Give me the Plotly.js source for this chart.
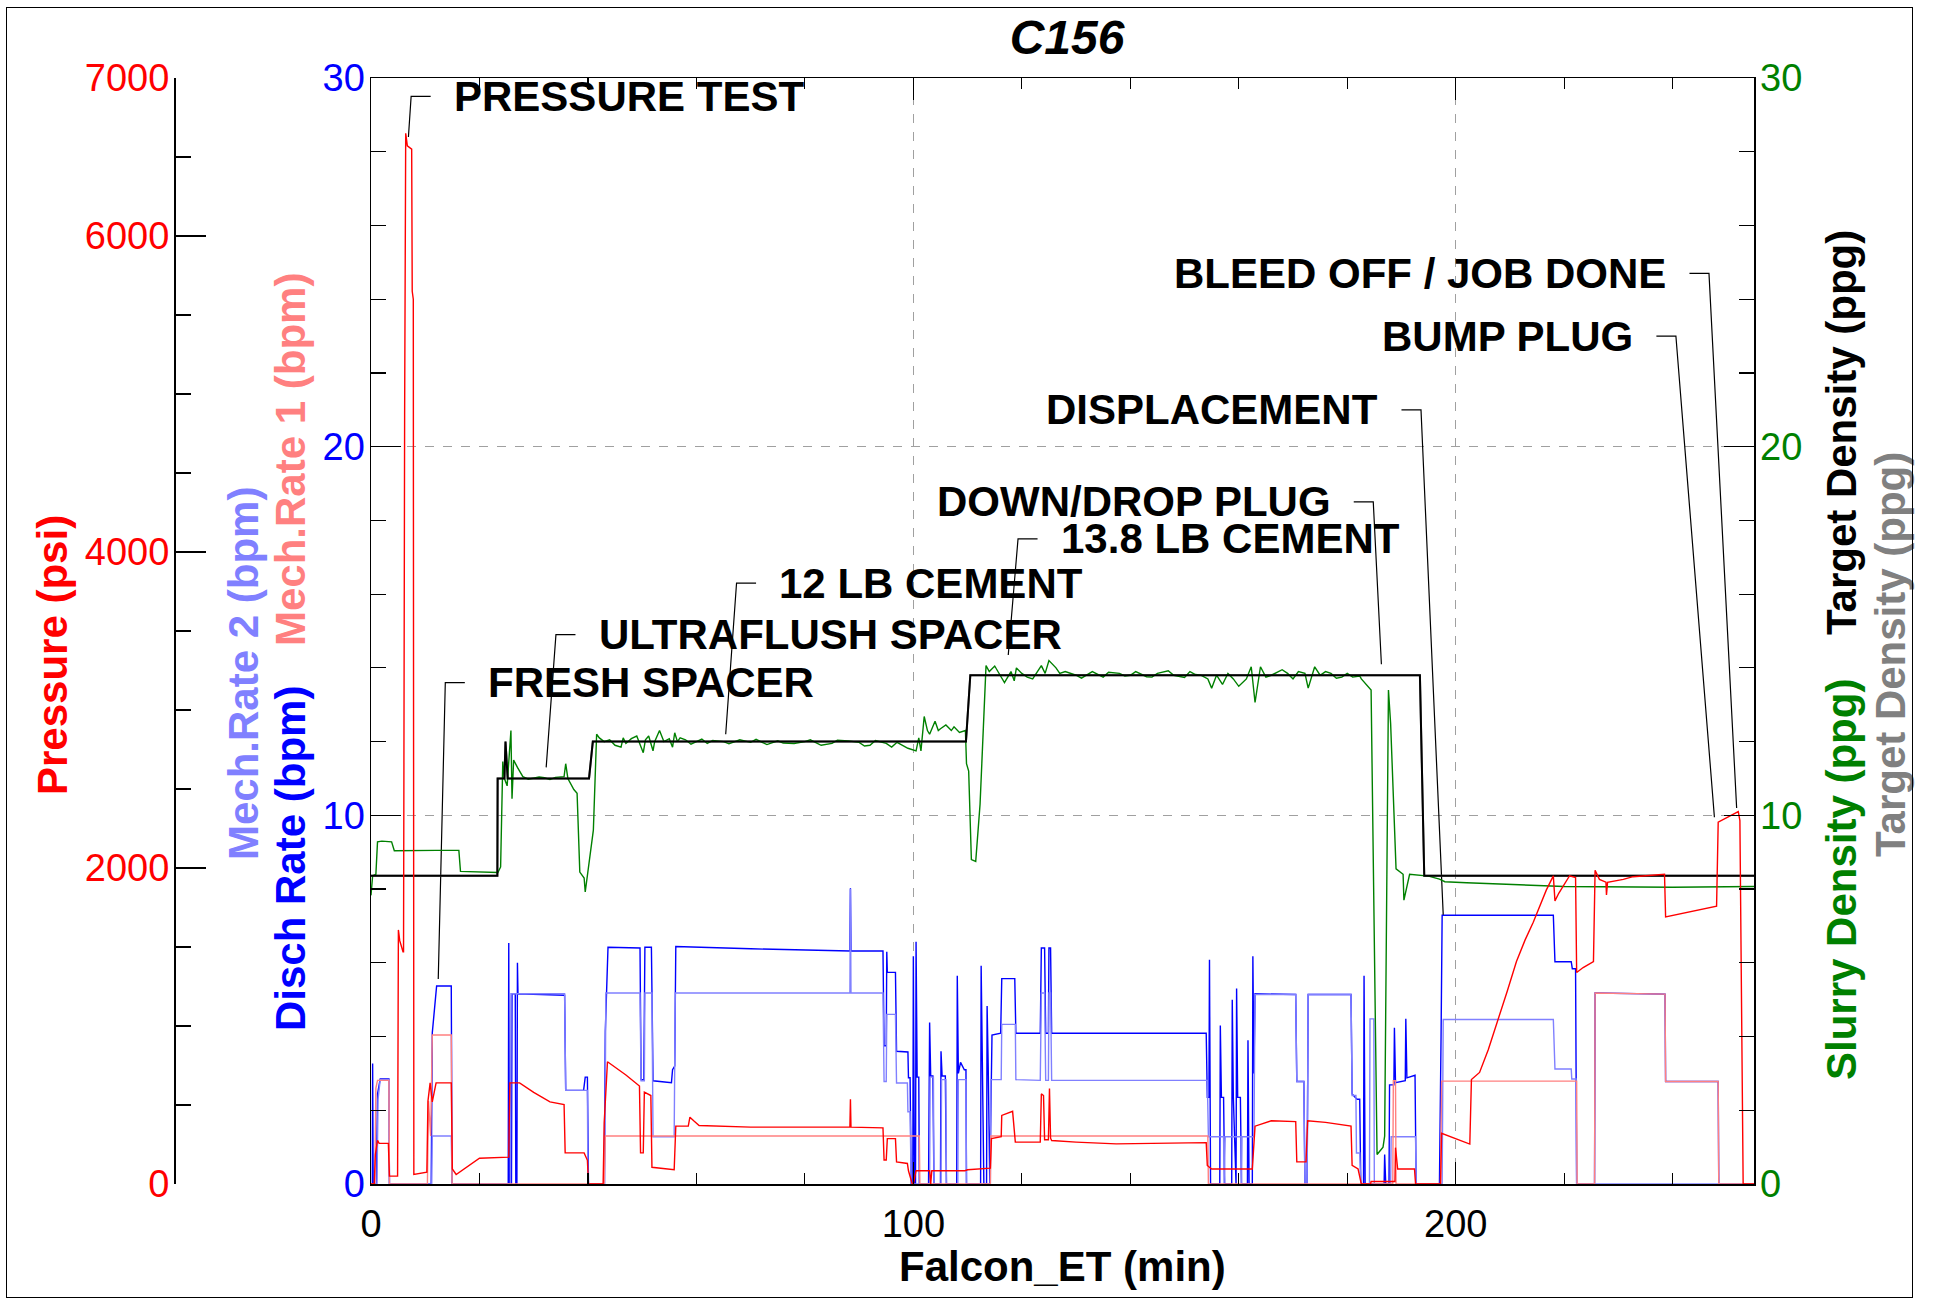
<!DOCTYPE html>
<html><head><meta charset="utf-8">
<script src="https://cdn.plot.ly/plotly-3.0.1.min.js"></script>
<style>
body{margin:0;background:#fff}
#frame{position:absolute;left:6px;top:7px;width:1905px;height:1289px;border:1.5px solid #000;pointer-events:none}
</style>
</head><body>
<div id="chart" style="width:1937px;height:1300px"></div>
<div id="frame"></div>
<script>
// ---------- DATA ----------
const dischTime = [0,0.25,0.3,0.4,1.0,1.2,1.7,3.3,3.4,11.1,11.3,12.1,14.8,14.95,25.3,25.4,25.5,25.9,26.0,26.6,26.7,26.9,27.0,27.1,35.7,35.9,39.2,39.5,39.9,40.1,43.0,43.2,43.7,49.6,49.8,50.3,50.5,51.7,51.9,52.0,55.4,55.6,56.0,56.2,70,88.3,88.4,88.5,94.4,94.6,95.0,95.1,95.2,96.7,96.9,99.0,99.1,99.4,99.6,99.9,100.0,100.2,100.4,100.5,100.7,101.0,101.1,102.8,103.0,103.2,103.6,103.8,105.0,105.1,105.3,105.9,106.1,108.0,108.1,108.3,108.7,109.4,109.7,109.8,112.4,112.5,112.7,113.0,113.5,113.6,113.8,114.1,114.5,116.1,116.3,118.7,118.9,123.4,123.6,124.2,124.4,124.9,125.0,125.3,125.5,154.0,154.2,154.5,154.6,154.8,156.5,156.6,156.8,157.2,157.4,158.7,158.8,159.0,159.5,159.6,159.8,160.3,160.5,161.6,161.7,161.9,162.5,162.6,162.8,163.0,170.5,170.7,172.0,172.2,172.6,172.8,180.7,180.9,181.8,182.3,182.5,183.0,183.1,183.3,186.8,186.9,187.1,187.7,187.8,188.6,188.7,188.9,190.7,190.8,191.0,192.5,192.7,197.0,197.3,197.5,218.0,218.3,221.3,221.5,222.1,222.3,225.6,225.7,238.6,238.7,248.4,248.5,255];
const dischRate = [0,0,3.27,0,0,2.44,2.85,2.85,0,0,4.1,5.37,5.37,0,0,6.54,0,0,5.16,5.16,0,0,6.0,5.16,5.12,2.54,2.54,2.9,2.9,0,0,4.14,6.42,6.40,2.83,2.83,6.42,6.42,4.1,2.8,2.75,3.1,3.2,6.44,6.38,6.32,8.02,6.32,6.32,3.75,3.75,6.3,5.74,5.74,3.6,3.58,2.88,2.88,0,0,6.18,0,0,6.57,2.9,2.9,0,0,4.38,2.93,2.93,0,0,3.6,2.93,2.93,0,0,5.65,3.0,3.3,3.1,3.1,0,0,5.92,2.83,0,0,4.83,3.2,0,4.04,4.09,5.57,5.57,4.09,4.09,6.4,6.4,4.09,4.09,6.4,6.4,4.09,4.09,2.35,2.35,6.08,0,0,4.3,2.35,2.35,0,0,5.0,2.35,0,5.3,2.35,2.35,0,0,3.9,0,0,6.18,3.0,5.16,5.14,2.78,2.78,0,0,5.14,5.14,2.44,2.3,2.3,0,0,5.65,0,0,0.8,0,0,2.69,2.69,4.24,2.75,2.8,4.48,2.88,2.95,0,0,4.0,7.29,7.29,6.03,6.03,5.84,5.84,0,0,5.18,5.15,2.78,2.78,0,0];

const mech2Time = [0,1.1,1.3,1.7,3.3,3.4,11.2,11.3,14.8,14.95,25.7,25.8,35.7,35.9,39.9,40.0,43.1,43.3,49.6,49.8,50.4,50.5,51.8,52.0,55.9,56.1,88.3,88.4,88.5,94.4,94.6,95.0,95.1,96.7,96.9,98.9,99.0,99.4,99.6,103.0,103.1,103.7,103.8,105.1,105.2,106.0,106.1,108.2,108.3,109.7,109.8,114.2,114.3,116.2,116.3,118.8,118.9,123.4,123.6,124.2,124.4,124.9,125.0,125.3,125.5,154.2,154.4,157.2,157.3,157.5,160.4,160.5,160.6,162.8,163.0,170.5,170.7,172.0,172.2,172.6,172.8,180.7,180.9,181.6,181.7,182.3,182.5,184.1,184.2,184.9,185.0,188.0,188.1,192.6,192.7,197.5,197.7,218.0,218.3,221.3,221.4,222.2,222.3,255];
const mech2Rate = [0,0,2.3,2.83,2.83,0,0,1.3,1.3,0,0,5.16,5.16,2.54,2.54,0,0,5.18,5.18,2.8,2.8,5.18,5.18,1.28,1.28,5.18,5.18,8.0,5.18,5.18,2.78,2.78,4.6,4.6,2.74,2.74,1.96,1.96,0,0,2.9,2.9,0,0,2.83,2.83,0,0,2.83,2.83,0,0,2.83,2.83,4.33,4.33,2.83,2.81,5.18,5.18,2.81,2.81,5.18,5.18,2.81,2.81,1.28,1.28,0,1.28,1.28,0,1.28,1.28,5.14,5.14,2.78,2.78,0,0,5.14,5.14,2.4,2.4,0.84,0.84,0,0,4.48,4.48,0,0,1.28,1.28,0,0,4.46,4.46,3.12,3.12,2.85,2.85,0,0];

const mech1Time = [0,0.7,0.9,1.2,3.3,3.4,10.4,10.6,11.0,11.3,14.8,14.95,43.0,43.2,101.1,101.2,114.2,114.3,154.3,154.4,188.4,188.5,188.9,189.0,197.2,197.4,222.3,222.4,225.6,225.7,238.6,238.7,248.4,248.5,255];
const mech1Rate = [0,0,2.6,2.81,2.81,0,0,2.25,1.3,4.04,4.04,0,0,1.3,1.3,0,0,1.3,1.3,0,0,2.8,2.8,0,0,2.79,2.79,0,0,5.18,5.15,2.78,2.78,0,0];

const pressureTime = [0,0.6,0.8,1.2,1.5,3.2,3.4,4.9,5.05,5.3,5.9,6.0,6.2,6.3,6.4,6.7,7.5,7.6,7.8,7.9,10.3,10.5,10.9,11.3,12.0,14.8,15.0,15.7,20.0,25.4,25.6,27.4,30.0,33.0,35.6,35.8,39.3,39.9,40.1,42.8,43.0,43.6,47.0,49.5,49.7,50.2,50.4,51.6,51.8,55.9,56.2,58.5,58.8,59.5,60.5,70,80,88.3,88.4,88.5,94.4,94.6,95.0,95.2,96.7,96.9,98.9,99.1,99.8,100.0,100.5,103.0,103.2,103.4,106.0,109.5,110.0,114.2,114.4,116.2,116.3,118.3,118.8,123.4,123.6,124.0,124.2,124.9,125.1,125.3,125.5,130,137.4,145,154.0,154.2,155,162.5,163.0,166,170.5,170.7,172.4,172.7,176,180.7,180.9,182.0,182.6,184.3,184.4,188.8,188.9,189.3,192.4,192.6,197.2,197.4,200.1,202.6,202.9,204.4,206,208.1,209.5,211.2,212.8,214.3,215.5,216.7,218,218.3,219.0,219.8,221,222.1,222.3,223.5,225.4,225.7,226.5,227.7,227.8,228.0,230.9,232.7,238.5,238.7,240,248.1,248.4,252.1,252.4,253.0,255];
const pressurePsi = [0,0,186,276,257,257,50,50,1608,1540,1470,1470,4870,6600,6650,6570,6550,5650,5600,60,75,525,640,520,640,640,95,60,163,170,640,640,580,520,502,197,197,150,0,0,389,774,690,620,197,197,582,560,106,90,366,366,423,400,370,360,362,360,536,360,355,152,152,287,287,140,130,84,0,0,84,84,0,84,84,84,90,100,287,300,434,460,265,265,570,560,280,280,604,290,275,265,254,258,262,117,95,95,366,400,395,140,140,400,390,366,118,95,0,0,16,16,230,95,95,0,0,321,287,253,661,706,850,1068,1220,1408,1545,1657,1760,1860,1950,1792,1840,1883,1951,1940,1339,1370,1408,1985,1928,1910,1830,1910,1928,1945,1960,1690,1700,1759,2290,2357,2300,0,0];

const slurryTime = [0,0.3,0.9,1.2,2.0,3.8,4.3,8,12,16.2,16.5,23.4,23.9,24.3,24.6,25.1,25.8,26.0,26.3,27.0,28.0,29,30,31,32,33,34,35.6,35.9,36.3,37.4,38.0,38.5,39.3,39.5,40.0,41.0,41.6,42.1,43,44,45,46.1,46.5,47,48,49,50.2,50.6,51.2,52.0,52.3,53.2,54,55,55.6,56.0,56.5,57,58,59,60,61,62,63,65,66,68,70,71,73,75,76,78,80,81,83,85,86,88,90,91,92,93,95,96,97,98,99,100.5,101.0,101.4,102.0,102.6,103,104,104.6,105,106,107,107.5,108.5,109.6,109.8,110.2,110.7,111.5,112.3,112.9,113.4,114,115,116,116.8,118,118.6,119,120,121,122,123.6,124.3,125,126.3,127,128,130,131,133,134,135,136,138,139,140,141,143,144,145,147,148,150,151,152,153,154.3,155,155.9,157,158,159,160,161.4,162.3,163,164,165,166,168,169,170,171,172.2,172.8,174,175,176,177,178,179,180,181,182.3,182.6,184.3,184.4,185.5,186.6,186.9,187.2,187.6,188.0,189,190.3,190.45,191.5,195,197,198,202,220,240,255];
const slurryPpg = [7.83,8.36,8.4,9.28,9.3,9.28,9.04,9.05,9.05,9.05,8.48,8.45,8.6,11.46,11.0,10.8,12.3,10.45,11.5,11.3,11.05,10.98,11.0,11.04,11.02,10.97,11.03,11.05,11.4,11.0,10.7,10.6,8.46,8.3,7.92,8.5,9.6,12.2,12.1,12.0,12.05,11.9,11.85,12.1,11.95,12.08,12.15,11.7,12.05,12.15,11.75,12.0,12.3,12.0,12.08,11.85,12.24,12.0,12.1,12.05,11.93,12.0,12.07,11.95,12.03,12.0,11.94,12.05,11.98,12.06,11.92,12.02,11.96,11.95,12.0,12.05,11.9,11.95,12.04,12.02,11.98,11.88,11.9,12.03,11.95,11.85,11.98,11.9,11.82,11.75,12.1,11.75,12.68,12.3,12.2,12.55,12.3,12.35,12.45,12.3,12.4,12.25,12.3,11.4,11.2,8.8,8.75,10.3,12.4,14.06,13.9,14.05,13.8,13.6,13.9,13.65,14.0,13.85,13.75,13.7,14.06,13.85,14.2,14.0,13.85,13.9,13.8,13.72,13.9,13.82,13.75,13.88,13.85,13.78,13.8,13.9,13.76,13.75,13.85,13.92,13.8,13.74,13.9,13.82,13.8,13.7,13.45,13.8,13.55,13.85,13.7,13.5,13.7,14.03,13.06,14.03,13.75,13.8,13.95,13.85,13.7,13.9,13.85,13.45,14.03,13.8,13.9,13.85,13.72,13.75,13.85,13.75,13.78,13.7,13.4,13.4,0.8,1.0,1.3,6.0,13.4,12.5,8.55,8.4,7.7,8.4,8.35,8.27,8.2,8.17,8.07,8.05,8.07,8.07];

const targetTime = [0,23.3,23.35,24.6,24.8,25.2,40.2,40.9,109.7,110.5,193.4,194.2,255];
const targetPpg = [8.36,8.36,11.0,11.0,12.0,11.0,11.0,12.0,12.0,13.8,13.8,8.36,8.36];

const eventLabels = ['PRESSURE TEST','FRESH SPACER','ULTRAFLUSH SPACER','12 LB CEMENT','13.8 LB CEMENT','DOWN/DROP PLUG','DISPLACEMENT','BUMP PLUG','BLEED OFF / JOB DONE'];
const eventTime = [6.9,12.4,32.3,65.4,117.5,186.3,197.7,247.7,251.8];
const eventValue = [28.4,5.56,11.3,12.2,14.35,14.1,7.3,9.95,10.2];
const labelTime = [7.4,13.7,34.1,67.4,119.3,184.8,193.6,240.6,246.7];
const labelValue = [29.5,13.6,14.9,16.3,17.5,18.5,21.0,23.0,24.7];
const labelSide = ['right','right','right','right','right','left','left','left','left'];

const xTicks = [0,100,200];
const rateTicks = [0,10,20,30];
const pressureTicks = [0,2000,4000,6000,7000];

// ---------- LAYOUT GEOMETRY ----------
const W = 1937, H = 1300;
const ML = 160, MR = 183, MT = 78, MB = 116;
const plotW = W - ML - MR, plotH = H - MT - MB;
const px = v => (v - ML) / plotW;
const py = v => (H - MB - v) / plotH;
const FONT = 'Liberation Sans, Arial, Helvetica, sans-serif';

const traces = [];
const lw = 1.4;
traces.push({x: dischTime, y: dischRate, mode:'lines', line:{color:'#0000ff', width:lw}, yaxis:'y', hoverinfo:'skip'});
traces.push({x: mech2Time, y: mech2Rate, mode:'lines', line:{color:'#8080ff', width:lw}, yaxis:'y', hoverinfo:'skip'});
traces.push({x: mech1Time, y: mech1Rate, mode:'lines', line:{color:'#ff8080', width:lw}, yaxis:'y', hoverinfo:'skip'});

const lx = [], ly = [];
const annotations = [];
for (let i = 0; i < eventLabels.length; i++) {
  const dir = labelSide[i] === 'right' ? 1 : -1;
  const hEnd = labelTime[i] + dir * 3.6;
  lx.push(eventTime[i], labelTime[i], hEnd, null);
  ly.push(eventValue[i], labelValue[i], labelValue[i], null);
  annotations.push({
    x: hEnd + dir * 3.9, y: labelValue[i], xref:'x', yref:'y',
    text: eventLabels[i], showarrow:false,
    xanchor: dir > 0 ? 'left' : 'right', yanchor:'middle',
    font:{family:FONT, size:42, color:'#000', weight:'bold'}
  });
}
traces.push({x: lx, y: ly, mode:'lines', line:{color:'#000', width:1.2}, yaxis:'y', hoverinfo:'skip'});

traces.push({x: targetTime, y: targetPpg, mode:'lines', line:{color:'#808080', width:2}, yaxis:'y2', hoverinfo:'skip'});
traces.push({x: slurryTime, y: slurryPpg, mode:'lines', line:{color:'#008000', width:lw}, yaxis:'y2', hoverinfo:'skip'});
traces.push({x: targetTime, y: targetPpg, mode:'lines', line:{color:'#000000', width:2}, yaxis:'y2', hoverinfo:'skip'});
traces.push({x: pressureTime, y: pressurePsi, mode:'lines', line:{color:'#ff0000', width:lw}, yaxis:'y3', hoverinfo:'skip'});

const titleFont = (c) => ({family:FONT, size:42, color:c, weight:'bold'});
const axisTitles = [
  {text:'Pressure (psi)', x:52, y:655, c:'#ff0000'},
  {text:'Mech.Rate 2 (bpm)', x:243, y:674, c:'#8080ff'},
  {text:'Mech.Rate 1 (bpm)', x:290, y:460, c:'#ff8080'},
  {text:'Disch Rate (bpm)', x:290, y:859, c:'#0000ff'},
  {text:'Target Density (ppg)', x:1841, y:432, c:'#000000'},
  {text:'Slurry Density (ppg)', x:1841, y:879, c:'#008000'},
  {text:'Target Density (ppg)', x:1890, y:655, c:'#808080'}
];
axisTitles.forEach(t => annotations.push({
  x: px(t.x), y: py(t.y), xref:'paper', yref:'paper', text:t.text, showarrow:false,
  textangle:-90, xanchor:'center', yanchor:'middle', font:titleFont(t.c)
}));
annotations.push({x: px(1062), y: py(1266), xref:'paper', yref:'paper', text:'Falcon_ET (min)',
  showarrow:false, xanchor:'center', yanchor:'middle', font:titleFont('#000')});

const tickFont = (c) => ({family:FONT, size:38, color:c});
const xDomainStart = px(371);

const layout = {
  width:W, height:H, margin:{l:ML, r:MR, t:MT, b:MB, pad:0},
  paper_bgcolor:'#fff', plot_bgcolor:'#fff', showlegend:false,
  title:{text:'<b><i>C156</i></b>', x:1067/W, y:1-37/H, xref:'container', yref:'container',
         xanchor:'center', yanchor:'middle', font:{family:FONT, size:48, color:'#000'}},
  xaxis:{domain:[xDomainStart,1], range:[0,255], tickmode:'array', tickvals:xTicks,
    ticks:'inside', ticklen:22, tickwidth:1.2, tickcolor:'#000',
    showline:true, linecolor:'#000', linewidth:1.5, mirror:'ticks',
    showgrid:true, gridcolor:'#a0a0a0', griddash:'dash', gridwidth:1, zeroline:false,
    minor:{tickmode:'linear', tick0:0, dtick:20, ticks:'inside', ticklen:11, tickwidth:1.2, tickcolor:'#000', showgrid:false},
    tickfont:tickFont('#000'), ticklabelstandoff:6},
  yaxis:{range:[0,30], tickmode:'array', tickvals:rateTicks,
    ticks:'inside', ticklen:30, tickwidth:1.2, tickcolor:'#000',
    showline:true, linecolor:'#000', linewidth:1.5, mirror:false,
    showgrid:true, gridcolor:'#a0a0a0', griddash:'dash', gridwidth:1, zeroline:false,
    minor:{tickmode:'linear', tick0:0, dtick:2, ticks:'inside', ticklen:15, tickwidth:1.2, tickcolor:'#000', showgrid:false},
    tickfont:tickFont('#0000ff'), ticklabelstandoff:-3},
  yaxis2:{range:[0,30], overlaying:'y', side:'right', anchor:'x', tickmode:'array', tickvals:rateTicks,
    ticks:'inside', ticklen:30, tickwidth:1.2, tickcolor:'#000',
    showline:true, linecolor:'#000', linewidth:1.5, showgrid:false, zeroline:false,
    minor:{tickmode:'linear', tick0:0, dtick:2, ticks:'inside', ticklen:15, tickwidth:1.2, tickcolor:'#000'},
    tickfont:tickFont('#008000'), ticklabelstandoff:-3},
  yaxis3:{range:[0,7000], overlaying:'y', side:'left', anchor:'free', position:px(174),
    tickmode:'array', tickvals:pressureTicks,
    ticks:'inside', ticklen:30, tickwidth:1.2, tickcolor:'#000',
    showline:true, linecolor:'#000', linewidth:1.5, showgrid:false, zeroline:false,
    minor:{tickmode:'linear', tick0:0, dtick:500, ticks:'inside', ticklen:15, tickwidth:1.2, tickcolor:'#000'},
    tickfont:tickFont('#ff0000'), ticklabelstandoff:-3},
  annotations: annotations
};

Plotly.newPlot('chart', traces, layout, {staticPlot:true, displayModeBar:false});
</script>
</body></html>
